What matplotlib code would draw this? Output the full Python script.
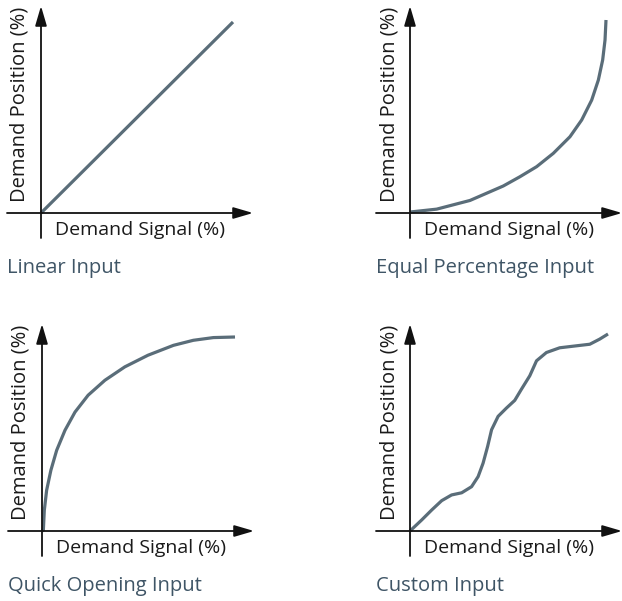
import matplotlib.pyplot as plt

# curve values, signal (%) vs position (%)
linear_x = [0, 100]
linear_y = [0, 100]

equal_x = [0, 13.6, 30.6, 47.6, 56.1, 64.6, 73.1, 81.6, 87.6, 92.7, 96.1, 98.3, 99.5, 100]
equal_y = [0.5, 2.0, 6.5, 14.0, 18.8, 24.0, 30.9, 39.5, 48.2, 58.5, 68.9, 79.3, 89.6, 100]

quick_x = [0, 0.7, 1.2, 2.4, 4.6, 7.6, 11.9, 17.1, 23.9, 32.6, 42.9, 54.9, 68.1, 78.4, 88.8, 100]
quick_y = [0, 0.4, 10.7, 21.0, 31.3, 41.6, 51.9, 61.3, 70.0, 77.7, 84.6, 90.6, 95.7, 98.3, 99.7, 100]

custom_x = [0, 5.9, 11.0, 16.0, 21.0, 26.1, 31.1, 34.4, 36.9, 39.2, 41.2, 44.5, 48.7, 52.9,
            56.3, 60.5, 63.9, 68.9, 75.6, 84.0, 90.8, 95.8, 100]
custom_y = [0, 5.6, 10.7, 15.4, 18.3, 19.4, 22.5, 27.6, 34.4, 42.9, 51.4, 58.2, 62.4, 66.3,
            72.0, 78.8, 86.4, 90.6, 93.0, 94.0, 94.8, 97.4, 100]

titles = ['Linear Input', 'Equal Percentage Input', 'Quick Opening Input', 'Custom Input']
curves = [(linear_x, linear_y), (equal_x, equal_y), (quick_x, quick_y), (custom_x, custom_y)]

W, H = 622, 601
fig = plt.figure(figsize=(W / 100, H / 100), dpi=100)
plt.rcParams['font.family'] = ['Open Sans', 'DejaVu Sans']

curve_color = '#5a6d79'
title_color = '#3f5566'

# origin of each panel in pixels (x from left, y from top) and the 100 % size in pixels
origins = [(41, 213), (410, 213), (42, 531), (410, 531)]
sizes = [(192, 191), (196, 193), (193, 194), (198, 197)]

for (ox, oy), (pw, ph), (xs, ys), title in zip(origins, sizes, curves, titles):
    ax = fig.add_axes([ox / W, (H - oy) / H, pw / W, ph / H])
    ax.set_xlim(0, 100)
    ax.set_ylim(0, 100)
    ax.axis('off')

    sx = 100 / pw
    sy = 100 / ph
    arrow = dict(arrowstyle='-|>,head_length=0.75,head_width=0.22', mutation_scale=16,
                 color='#111111', lw=1.3, shrinkA=0, shrinkB=0)
    # horizontal axis
    ax.annotate('', xy=(212 * sx, 0), xytext=(-34 * sx, 0), arrowprops=arrow,
                annotation_clip=False)
    # vertical axis
    ax.annotate('', xy=(0, 207 * sy), xytext=(0, -25 * sy), arrowprops=arrow,
                annotation_clip=False)

    ax.plot(xs, ys, color=curve_color, lw=2.3, solid_joinstyle='round',
            solid_capstyle='butt', clip_on=False)

    ax.text(99 * sx, -17 * sy, 'Demand Signal (%)', ha='center', va='center',
            fontsize=14, color='#1a1a1a')
    ax.text(-21 * sx, 109 * sy, 'Demand Position (%)', ha='center', va='center',
            rotation=90, fontsize=14.5, color='#1a1a1a')
    ax.text(-34 * sx, -55 * sy, title, ha='left', va='center',
            fontsize=14.5, color=title_color)

fig.savefig('out.png', dpi=100)
